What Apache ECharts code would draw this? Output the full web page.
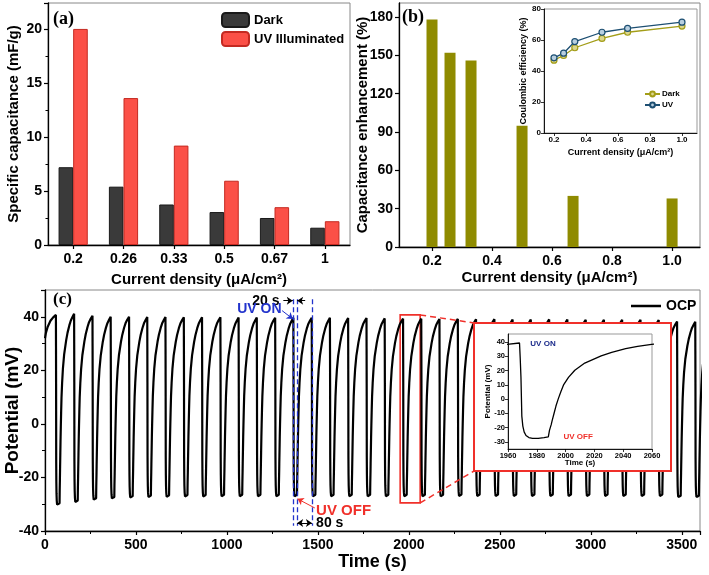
<!DOCTYPE html>
<html><head><meta charset="utf-8">
<script src="https://cdn.jsdelivr.net/npm/echarts@6/dist/echarts.min.js"></script>
<style>html,body{margin:0;padding:0;background:#fff}#c{width:709px;height:575px}</style>
</head><body><div id="c"></div>
<script>
// ---------- data ----------
const catsA = ['0.2', '0.26', '0.33', '0.5', '0.67', '1'];
const darkCap = [7.2, 5.4, 3.75, 3.05, 2.5, 1.6];
const uvCap = [20, 13.6, 9.2, 5.95, 3.5, 2.2];

const enhX = [0.2, 0.26, 0.33, 0.5, 0.67, 1.0];
const enhVal = [178, 152, 146, 95, 40, 38];

const ceX = [0.2, 0.26, 0.33, 0.5, 0.66, 1.0];
const ceDark = [47, 50, 55, 61, 65, 69];
const ceUV = [48.5, 51.5, 59, 65, 67.5, 71.5];

// OCP trace: UV-ON instants, per-cycle peak / trough (mV)
const uvOnTimes = [60, 160, 261, 361, 462, 562, 662, 763, 863, 964, 1064, 1164, 1265, 1365, 1466, 1566, 1666, 1767,
  1867, 1968, 2068, 2168, 2269, 2369, 2470, 2570, 2670, 2771, 2871, 2972, 3072, 3172, 3273, 3373, 3474, 3574];
const cyclePeaks = [40.7, 41.1, 40.4, 40.0, 40.0, 39.9, 39.9, 39.8, 39.8, 39.8, 39.7, 39.7, 39.6, 39.6, 39.6, 39.6, 39.5, 39.5,
  39.4, 39.3, 39.3, 39.2, 39.2, 39.1, 39.1, 39.0, 39.0, 39.0, 39.0, 38.9, 38.9, 38.9, 38.9, 38.8, 38.2, 38.1];
const cycleTroughs = [-30.7, -29.7, -28.8, -28.3, -28.0, -27.8, -27.7, -27.6, -27.6, -27.5, -27.5, -27.5, -27.5, -27.5, -27.5,
  -27.5, -27.5, -27.5, -27.5, -27.5, -27.5, -27.5, -27.4, -27.4, -27.4, -27.4, -27.4, -27.4, -27.4, -27.4, -27.4, -27.4,
  -27.4, -27.4, -27.8, -27.8];
// trace before the first UV pulse
const startSegment = [[0, 32], [5, 34], [15, 36.3], [30, 38.5], [45, 39.8]];
// one cycle (time after UV ON, mV)
const dropShape = [[0, 39], [0.5, 28], [1, 15], [1.6, -12], [2.3, -19], [3.2, -23], [4.5, -25.5], [6.5, -27], [9, -27.5],
  [13, -27.5], [17, -27], [20, -26.5]];
const recoveryShape = [[20.8, -22], [22, -18], [22.7, -15], [24, -10], [25.3, -5], [26.9, 0], [28.7, 5], [30.7, 10],
  [34, 15], [38.4, 20], [45.3, 25], [56.7, 30], [64, 32.5], [73.7, 35], [82, 36.7], [91.7, 38]];
const SHAPE_MIN = -27.5, SHAPE_PEAK = 39;

// ---------- assemble OCP trace from the read values ----------
const ocp = startSegment.slice();
uvOnTimes.forEach((t0, k) => {
  const pk = cyclePeaks[k], tr = cycleTroughs[k];
  const nextPk = k + 1 < cyclePeaks.length ? cyclePeaks[k + 1] : pk;
  dropShape.forEach(([dt, v]) => ocp.push([t0 + dt, tr + (v - SHAPE_MIN) * (pk - tr) / (SHAPE_PEAK - SHAPE_MIN)]));
  recoveryShape.forEach(([dt, v]) => ocp.push([t0 + dt, tr + (v - SHAPE_MIN) * (nextPk - tr) / (SHAPE_PEAK - SHAPE_MIN)]));
});
const ocpInset = ocp.filter(p => p[0] >= 1940 && p[0] <= 2080);

// ---------- helpers ----------
const F = 'Liberation Sans, Arial, sans-serif';
function merge(a, b) {
  const o = Object.assign({}, a);
  for (const k in b) {
    if (b[k] && typeof b[k] === 'object' && !Array.isArray(b[k]) && a[k] && typeof a[k] === 'object') o[k] = merge(a[k], b[k]);
    else o[k] = b[k];
  }
  return o;
}
const plain = v => String(v);
function ax(o) {
  return merge({
    nameLocation: 'middle',
    nameMoveOverlap: false,
    axisLine: { show: true, onZero: false, lineStyle: { color: '#000', width: 1.3 } },
    axisTick: { show: true, inside: false, length: 4, lineStyle: { color: '#000', width: 1.2 } },
    minorTick: { show: false },
    splitLine: { show: false },
    axisLabel: { color: '#000', fontFamily: F, fontWeight: 'bold', fontSize: 14, margin: 6, formatter: plain },
    nameTextStyle: { color: '#000', fontFamily: F, fontWeight: 'bold', fontSize: 15 }
  }, o);
}
const small = {
  axisTick: { length: 3, lineStyle: { width: 0.8 } },
  axisLine: { lineStyle: { width: 0.9 } },
  axisLabel: { fontSize: 8, margin: 3 },
  nameTextStyle: { fontSize: 9 }
};
const gridBase = { show: true, borderColor: '#888', borderWidth: 1, backgroundColor: 'transparent', containLabel: false, outerBoundsMode: 'none' };

const chart = echarts.init(document.getElementById('c'), null, { renderer: 'canvas' });

const option = {
  animation: false,
  backgroundColor: '#fff',
  grid: [
    Object.assign({ left: 48, top: 3, width: 302, height: 242 }, gridBase),
    Object.assign({ left: 399, top: 3, width: 301, height: 244 }, gridBase),
    Object.assign({ left: 544, top: 9, width: 153, height: 124 }, gridBase, { borderColor: '#999' }),
    Object.assign({ left: 45, top: 290, width: 655, height: 241 }, gridBase),
    Object.assign({ left: 508, top: 334, width: 144, height: 115, z: 60 }, gridBase, { backgroundColor: '#fff', borderColor: '#999' })
  ],
  xAxis: [
    ax({ gridIndex: 0, type: 'category', data: catsA, name: 'Current density (\u03bcA/cm\u00b2)', nameGap: 27,
      axisTick: { alignWithLabel: true }, axisLabel: { margin: 7 } }),
    ax({ gridIndex: 1, type: 'value', min: 0.09, max: 1.093, splitNumber: 5, name: 'Current density (\u03bcA/cm\u00b2)', nameGap: 23,
      axisLabel: { showMinLabel: false, showMaxLabel: false, margin: 7, formatter: v => v.toFixed(1) } }),
    ax(merge(small, { gridIndex: 2, type: 'value', min: 0.1375, max: 1.0938, splitNumber: 5, name: 'Current density (\u03bcA/cm\u00b2)', nameGap: 15,
      axisLabel: { showMinLabel: false, showMaxLabel: false, formatter: v => v.toFixed(1) } })),
    ax({ gridIndex: 3, type: 'value', min: 0, max: 3600, interval: 500, name: 'Time (s)', nameGap: 22,
      minorTick: { show: true, splitNumber: 2, length: 3, lineStyle: { color: '#000', width: 1 } },
      axisLabel: { showMaxLabel: false, margin: 7 }, nameTextStyle: { fontSize: 18 } }),
    ax(merge(small, { gridIndex: 4, type: 'value', min: 1960, max: 2060, interval: 20, name: 'Time (s)', nameGap: 10, z: 61,
      nameTextStyle: { fontSize: 8 }, axisLabel: { fontSize: 7.5 } }))
  ],
  yAxis: [
    ax({ gridIndex: 0, type: 'value', min: 0, max: 22.4, interval: 5, name: 'Specific capacitance (mF/g)', nameGap: 27,
      minorTick: { show: true, splitNumber: 2, length: 2.5, lineStyle: { color: '#000' } },
      axisLabel: { showMaxLabel: false } }),
    ax({ gridIndex: 1, type: 'value', min: 0, max: 191, interval: 30, name: 'Capacitance enhancement (%)', nameGap: 29,
      axisLabel: { showMaxLabel: false } }),
    ax(merge(small, { gridIndex: 2, type: 'value', min: 0, max: 80, interval: 20, name: 'Coulombic efficiency (%)', nameGap: 16 })),
    ax({ gridIndex: 3, type: 'value', min: -40, max: 50, interval: 20, name: 'Potential (mV)', nameGap: 23,
      minorTick: { show: true, splitNumber: 2, length: 3, lineStyle: { color: '#000', width: 1 } },
      axisLabel: { showMaxLabel: false }, nameTextStyle: { fontSize: 19 } }),
    ax(merge(small, { gridIndex: 4, type: 'value', min: -35, max: 45.6, splitNumber: 8, name: 'Potential (mV)', nameGap: 16, z: 61,
      nameTextStyle: { fontSize: 8 }, axisLabel: { fontSize: 7.5, showMinLabel: false, showMaxLabel: false } }))
  ],
  legend: [
    { data: ['Dark', 'UV Illuminated'], orient: 'vertical', left: 221, top: 12, padding: 0, itemWidth: 27, itemHeight: 14, itemGap: 3,
      selectedMode: false, textStyle: { fontFamily: F, fontWeight: 'bold', fontSize: 13, color: '#000' } },
    { data: ['CE Dark', 'UV'], orient: 'vertical', left: 644, top: 90, padding: 0, itemWidth: 15, itemHeight: 6, itemGap: 3,
      selectedMode: false, formatter: n => n.replace('CE ', ''), textStyle: { fontFamily: F, fontWeight: 'bold', fontSize: 8, color: '#000', padding: [0, 0, 0, -3] } },
    { data: [{ name: 'OCP', icon: 'rect' }], left: 631, top: 299, padding: 0, itemWidth: 30, itemHeight: 2.5, itemGap: 4, selectedMode: false,
      textStyle: { fontFamily: F, fontWeight: 'bold', fontSize: 14, color: '#000' } }
  ],
  series: [
    { name: 'Dark', type: 'bar', xAxisIndex: 0, yAxisIndex: 0, data: darkCap, barGap: '0%', barCategoryGap: '42%',
      itemStyle: { color: '#3a3a3a', borderColor: '#1a1a1a', borderWidth: 1 } },
    { name: 'UV Illuminated', type: 'bar', xAxisIndex: 0, yAxisIndex: 0, data: uvCap, barGap: '0%', barCategoryGap: '42%',
      itemStyle: { color: '#fb5047', borderColor: '#c42a22', borderWidth: 1 } },
    { name: 'Enhancement', type: 'bar', xAxisIndex: 1, yAxisIndex: 1, barWidth: 11,
      data: enhX.map((x, i) => [x, enhVal[i]]), itemStyle: { color: '#8f8b00' } },
    { name: 'CE Dark', type: 'line', xAxisIndex: 2, yAxisIndex: 2, data: ceX.map((x, i) => [x, ceDark[i]]),
      symbol: 'circle', symbolSize: 6, lineStyle: { color: '#a39d18', width: 1.3 },
      itemStyle: { color: '#dcd68c', borderColor: '#a39d18', borderWidth: 1.2 } },
    { name: 'UV', type: 'line', xAxisIndex: 2, yAxisIndex: 2, data: ceX.map((x, i) => [x, ceUV[i]]),
      symbol: 'circle', symbolSize: 6, lineStyle: { color: '#1d4f72', width: 1.3 },
      itemStyle: { color: '#b8cfe0', borderColor: '#1d4f72', borderWidth: 1.2 } },
    { name: 'OCP', type: 'line', xAxisIndex: 3, yAxisIndex: 3, data: ocp, symbol: 'none', showSymbol: false,
      lineStyle: { color: '#000', width: 2.2 }, itemStyle: { color: '#000' }, clip: true, z: 3,
      markArea: { silent: true, itemStyle: { color: 'rgba(0,0,0,0)', borderColor: '#f0302a', borderWidth: 1.6 },
        data: [[{ coord: [1952, 40.7] }, { coord: [2062, -29.5] }]] },
      markLine: { silent: true, animation: false, symbolSize: 6, label: { show: false },
        data: [
          [{ coord: [1363, 46.5], symbol: 'none', lineStyle: { color: '#2233cc', type: [5, 3], width: 1.3 } }, { coord: [1363, -38], symbol: 'none' }],
          [{ coord: [1385, 46.5], symbol: 'none', lineStyle: { color: '#2233cc', type: [5, 3], width: 1.3 } }, { coord: [1385, -38], symbol: 'none' }],
          [{ coord: [1468, 46.5], symbol: 'none', lineStyle: { color: '#2233cc', type: [5, 3], width: 1.3 } }, { coord: [1468, -38], symbol: 'none' }],
          [{ coord: [1310, 46], symbol: 'none', lineStyle: { color: '#000', type: 'solid', width: 1 } }, { coord: [1362, 46], symbol: 'arrow' }],
          [{ coord: [1430, 46], symbol: 'none', lineStyle: { color: '#000', type: 'solid', width: 1 } }, { coord: [1386, 46], symbol: 'arrow' }],
          [{ coord: [1303, 42.3], symbol: 'none', lineStyle: { color: '#2233cc', type: 'solid', width: 1 } }, { coord: [1362, 39.2], symbol: 'arrow' }],
          [{ coord: [1483, -31.4], symbol: 'none', lineStyle: { color: '#f0302a', type: 'solid', width: 1 } }, { coord: [1388, -28], symbol: 'arrow' }],
          [{ coord: [1386, -37], symbol: 'arrow', lineStyle: { color: '#000', type: 'solid', width: 1 } }, { coord: [1467, -37], symbol: 'arrow' }]
        ] } },
    { name: 'OCP zoom', type: 'line', xAxisIndex: 4, yAxisIndex: 4, data: ocpInset, symbol: 'none', showSymbol: false,
      lineStyle: { color: '#000', width: 1.3 }, clip: true, z: 62,
      markLine: { silent: true, animation: false, symbolSize: 5, label: { show: false },
        data: [
          [{ coord: [1975, 39], symbol: 'none', lineStyle: { color: '#888', type: 'solid', width: 1 } }, { coord: [1969, 39], symbol: 'arrow' }],
          [{ coord: [1998, -26.5], symbol: 'none', lineStyle: { color: '#888', type: 'solid', width: 1 } }, { coord: [1989.5, -26.5], symbol: 'arrow' }]
        ] } }
  ]
};
chart.setOption(option);

// ---------- annotations placed from data coordinates ----------
const PC = (x, y) => chart.convertToPixel({ gridIndex: 3 }, [x, y]);
const PI = (x, y) => chart.convertToPixel({ gridIndex: 4 }, [x, y]);
const box = { x: 474, y: 323, w: 197, h: 148 };
const rTop = PC(2062, 40.7), rBot = PC(2062, -29.5);
const t20 = PC(1305, 46), tOn = PC(1300, 42.8), tOff = PC(1490, -32.5), t80 = PC(1490, -37);
const iOn = PI(1975.5, 39), iOff = PI(1998.5, -26.5);
function txt(x, y, s, fill, size, align, fam, z) {
  return { type: 'text', x, y, z: z || 70, style: { text: s, fill, font: 'bold ' + size + 'px ' + (fam || F), align: align || 'left', verticalAlign: 'middle' } };
}
chart.setOption({
  graphic: { elements: [
    txt(53, 19, '(a)', '#000', 18, 'left', 'Liberation Serif, Times New Roman, serif'),
    txt(402, 17, '(b)', '#000', 18, 'left', 'Liberation Serif, Times New Roman, serif'),
    txt(53, 300, '(c)', '#000', 17, 'left', 'Liberation Serif, Times New Roman, serif'),
    { type: 'rect', z: 50, shape: { x: box.x, y: box.y, width: box.w, height: box.h }, style: { fill: '#fff', stroke: '#f0302a', lineWidth: 2 } },
    { type: 'line', z: 50, shape: { x1: rTop[0], y1: rTop[1], x2: box.x, y2: box.y }, style: { stroke: '#f0302a', lineWidth: 1.5, lineDash: [6, 4] } },
    { type: 'line', z: 50, shape: { x1: rBot[0], y1: rBot[1], x2: box.x, y2: box.y + box.h }, style: { stroke: '#f0302a', lineWidth: 1.5, lineDash: [6, 4] } },
    txt(t20[0] - 3, t20[1], '20 s', '#000', 14, 'right'),
    txt(tOn[0], tOn[1], 'UV ON', '#2233cc', 14, 'right'),
    txt(tOff[0], tOff[1], 'UV OFF', '#f0302a', 15, 'left'),
    txt(t80[0], t80[1], '80 s', '#000', 14, 'left'),
    txt(iOn[0], iOn[1], 'UV ON', '#1a2a8a', 8, 'left'),
    txt(iOff[0], iOff[1], 'UV OFF', '#f0302a', 8, 'left')
  ] }
});
</script>
</body></html>
